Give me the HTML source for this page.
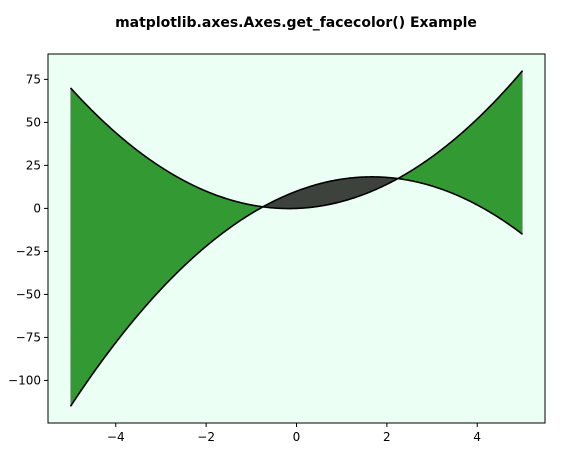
<!DOCTYPE html>
<html><head><meta charset="utf-8"><style>
body{margin:0;background:#fff;width:569px;height:467px;overflow:hidden}
text{font-family:"DejaVu Sans","Liberation Sans",sans-serif}
</style></head><body>
<svg id="c" width="569" height="467">
<text x="296" y="27" text-anchor="middle" font-size="14" font-weight="bold">matplotlib.axes.Axes.get_facecolor() Example</text>
</svg>
<script>
const xs = [-5, 5];
const coefA = [3, 1, 0];      // y1 = 3x^2 + x
const coefB = [-3, 10, 10];   // y2 = -3x^2 + 10x + 10
const xTicks = [-4, -2, 0, 2, 4];
const yTicks = [75, 50, 25, 0, -25, -50, -75, -100];
const L=48,R=545,T=54,B=423, xmin=-5.5,xmax=5.5, ymin=-124.75,ymax=89.75;
const X=v=>L+(v-xmin)/(xmax-xmin)*(R-L), Y=v=>B-(v-ymin)/(ymax-ymin)*(B-T);
const f=(c,x)=>c[0]*x*x+c[1]*x+c[2];
const svg=document.getElementById('c'), NS='http://www.w3.org/2000/svg';
function mk(t,a,p){const e=document.createElementNS(NS,t);for(const k in a)e.setAttribute(k,a[k]);(p||svg).appendChild(e);return e;}
const bg=mk('rect',{x:L,y:T,width:R-L,height:B-T,fill:'#ebfff4'});


const N=400, pts=[];
for(let i=0;i<=N;i++){const x=xs[0]+(xs[1]-xs[0])*i/N;pts.push([x,f(coefA,x),f(coefB,x)]);}
// fill segments
let seg=[],sign=null;
function flush(){ if(seg.length<2)return;
  let d='M'+seg.map(p=>X(p[0])+','+Y(p[1])).join('L')+'L'+seg.slice().reverse().map(p=>X(p[0])+','+Y(p[2])).join('L')+'Z';
  const up=seg[Math.floor(seg.length/2)][1]>seg[Math.floor(seg.length/2)][2];
  const p=mk('path',{d,fill:up?'#339933':'#3d423d',stroke:up?'#999':'#222','stroke-width':0.8});
  
  
}
for(const p of pts){const s=p[1]>=p[2];if(sign!==null&&s!==sign){seg.push(p);flush();seg=[p];}else seg.push(p);sign=s;}
flush();
[[1,'line-y1'],[2,'line-y2']].forEach(([k,n])=>{
  const l=mk('path',{d:'M'+pts.map(p=>X(p[0])+','+Y(p[k])).join('L'),fill:'none',stroke:'#000','stroke-width':1.6});
  
  
});
const fr=mk('rect',{x:L,y:T,width:R-L,height:B-T,fill:'none',stroke:'#000','stroke-width':1});


xTicks.forEach(v=>{const x=X(v);
  mk('line',{x1:x,x2:x,y1:B,y2:B+4,stroke:'#000'});
  const t=mk('text',{x:x,y:B+18,'text-anchor':'middle','font-size':12});
  t.textContent=v<0?'\u2212'+(-v):v;
  
  
});
yTicks.forEach(v=>{const y=Y(v);
  mk('line',{x1:L-4,x2:L,y1:y,y2:y,stroke:'#000'});
  const t=mk('text',{x:L-7,y:y+4,'text-anchor':'end','font-size':12});
  t.textContent=v<0?'\u2212'+(-v):v;
  
  
});
</script>
</body></html>
